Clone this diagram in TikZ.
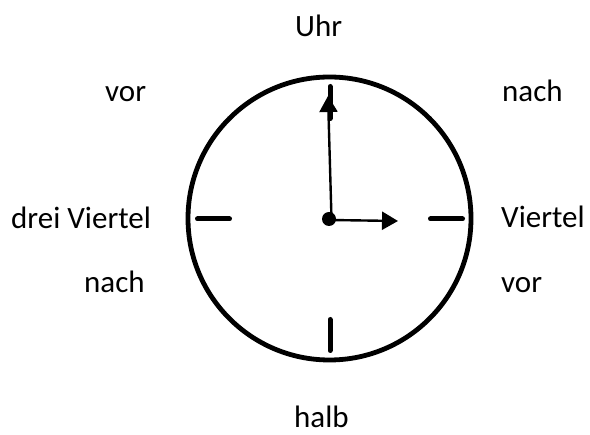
\documentclass[tikz,border=0pt]{standalone}
\usepackage{fontspec}
\setmainfont{Carlito}
\usetikzlibrary{arrows.meta}
\tikzset{
  lbl/.style={anchor=base west,inner sep=0pt,font=\fontsize{31}{37}\selectfont},
  tick/.style={line width=5pt,line cap=round},
  hand/.style={line width=2.4pt,-{Triangle[length=16pt,width=18pt]}},
}
\begin{document}
\begin{tikzpicture}[x=1pt,y=-1pt]
\useasboundingbox (0,0) rectangle (590,435);
% labels
\node[lbl] (uhr) at (295,37) {Uhr};
\node[lbl] (vorTL) at (105,102) {vor};
\node[lbl] (nachTR) at (502,102) {nach};
\node[lbl] (dv) at (11,229) {drei Viertel};
\node[lbl] (vt) at (501,228) {Viertel};
\node[lbl] (nachBL) at (84,293) {nach};
\node[lbl] (vorBR) at (501,293) {vor};
\node[lbl] (halb) at (294,428) {halb};
% clock face
\node[circle,draw,line width=4.8pt,minimum size=283pt,inner sep=0pt] (face) at (329.5,218.5) {};
% ticks
\draw[tick] (330,86.5) -- (330,118.5);
\draw[tick] (197.5,219) -- (229.5,219);
\draw[tick] (430.5,219) -- (462.5,219);
\draw[tick] (330,319.5) -- (330,350.5);
% hands
\coordinate (mtip) at (328,96);
\coordinate (htip) at (398,221);
\coordinate (c) at (330,220);
\draw[hand] (331.5,219) -- (mtip);
\draw[hand] (c) -- (htip);
\node[circle,fill=black,minimum size=14pt,inner sep=0pt] (hub) at (329,219) {};
\end{tikzpicture}
\end{document}
